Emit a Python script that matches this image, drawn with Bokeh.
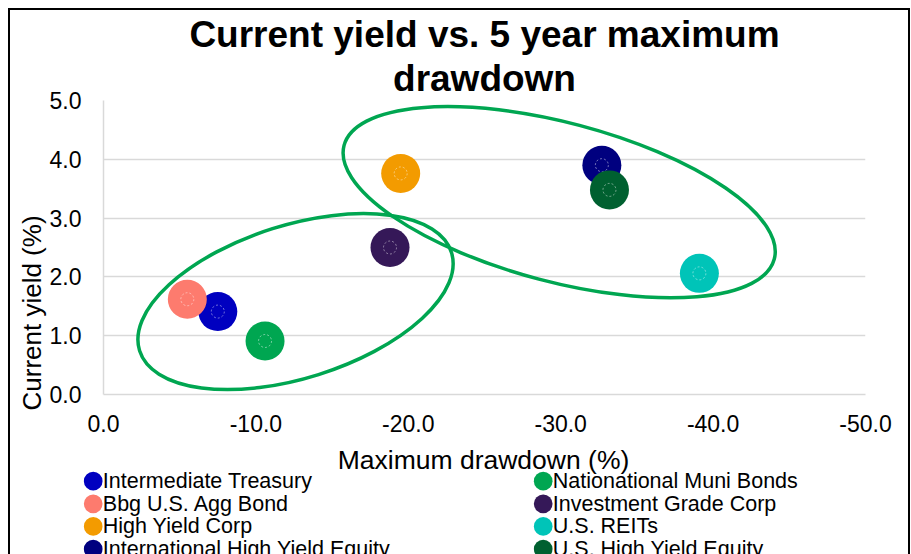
import math
from bokeh.plotting import figure
from bokeh.layouts import column
from bokeh.models import Range1d, FixedTicker, NumeralTickFormatter, Title
from bokeh.core.properties import value
from bokeh.embed import file_html
from bokeh.resources import INLINE

# ---------------- data ----------------
series = ["Intermediate Treasury", "Nationational Muni Bonds", "Bbg U.S. Agg Bond",
          "Investment Grade Corp", "High Yield Corp", "U.S. REITs",
          "International High Yield Equity", "U.S. High Yield Equity"]
max_drawdown = [-7.5, -10.6, -5.5, -18.8, -19.5, -39.1, -32.7, -33.2]
current_yield = [1.41, 0.91, 1.62, 2.50, 3.76, 2.06, 3.90, 3.48]
colors = ["#0000c0", "#00a651", "#fd7b6e", "#351858", "#f39b00", "#00c4b8",
          "#00007f", "#006030"]
x_ticks = [0, -10, -20, -30, -40, -50]
y_ticks = [0, 1, 2, 3, 4, 5]

# highlight ellipses around the two groups
group_x = [-12.6, -29.9]
group_y = [1.58, 3.27]
group_w_px = [327, 445]
group_h_px = [153, 159]
group_angle_deg = [17.5, -14.8]

FONT = "Liberation Sans"

# ---------------- layout (page pixels) ----------------
PAGE_X0, PAGE_Y0 = 10, 10          # content box origin inside the 2px border
W = 898                            # content width
H_MAIN, H_LEG = 434, 110           # main chart / legend strip heights
FL, FR, FT, FB = 93, 855, 90, 384  # frame edges inside the main figure

p = figure(width=W, height=H_MAIN, output_backend="svg", toolbar_location=None,
           title=None, x_range=Range1d(0, -50), y_range=Range1d(0, 5),
           min_border_left=FL, min_border_right=W - FR,
           min_border_top=FT, min_border_bottom=H_MAIN - FB)
p.frame_align = False
p.outline_line_color = None
p.background_fill_color = "white"
p.border_fill_color = "white"

p.xgrid.grid_line_color = None
p.ygrid.grid_line_color = "#d9d9d9"
p.ygrid.grid_line_width = 1.5

for ax in (p.xaxis[0], p.yaxis[0]):
    ax.axis_line_color = "#d9d9d9"
    ax.axis_line_width = 1.5
    ax.major_tick_line_color = None
    ax.minor_tick_line_color = None
    ax.minor_tick_out = 0
    ax.major_label_text_font = FONT
    ax.major_label_text_font_size = "23px"
    ax.major_label_text_color = "black"
    ax.formatter = NumeralTickFormatter(format="0.0")

p.xaxis.ticker = FixedTicker(ticks=x_ticks)
p.yaxis.ticker = FixedTicker(ticks=y_ticks)
p.xaxis.major_tick_out = 6
p.xaxis.major_label_standoff = 14
p.yaxis.major_tick_out = 0
p.yaxis.major_label_standoff = 22

renderers = []
for i in range(len(series)):
    r = p.ellipse(x=[max_drawdown[i]], y=[current_yield[i]], width=39, height=39,
                  width_units="screen", height_units="screen",
                  fill_color=colors[i], line_color=None)
    p.scatter(x=[max_drawdown[i]], y=[current_yield[i]], size=13, fill_color=None,
              line_color="white", line_alpha=0.45, line_width=1, line_dash="2 2")
    renderers.append(r)

p.ellipse(x=group_x, y=group_y, width=group_w_px, height=group_h_px,
          width_units="screen", height_units="screen",
          angle=[math.radians(a) for a in group_angle_deg],
          fill_color=None, line_color="#00a651", line_width=3.5)

# two-line chart title (first added sits closest to the plot)
p.add_layout(Title(text="drawdown", align="center", vertical_align="bottom",
                   standoff=4, text_font=FONT, text_font_style="bold",
                   text_font_size="37px", text_color="black"), "above")
p.add_layout(Title(text="Current yield vs. 5 year maximum", align="center",
                   vertical_align="bottom", standoff=-2, text_font=FONT,
                   text_font_style="bold", text_font_size="37px",
                   text_color="black"), "above")

# y axis title, shifted down like the original
p.add_layout(Title(text="Current yield (%)", align="left", offset=-16,
                   vertical_align="bottom", standoff=0, text_font=FONT,
                   text_font_style="normal", text_font_size="26px",
                   text_color="black"), "left")

# ---------------- bottom strip: x-axis title + legend ----------------
top_leg = PAGE_Y0 + H_MAIN
leg = figure(width=W, height=H_LEG, output_backend="svg", toolbar_location=None,
             title=None, x_axis_type=None, y_axis_type=None,
             x_range=Range1d(PAGE_X0, PAGE_X0 + W),
             y_range=Range1d(top_leg + H_LEG, top_leg),
             min_border_left=0, min_border_right=0, min_border_top=0,
             min_border_bottom=0)
leg.frame_align = False
leg.outline_line_color = None
leg.xgrid.grid_line_color = None
leg.ygrid.grid_line_color = None
leg.background_fill_color = "white"
leg.border_fill_color = "white"

frame_center_px = PAGE_X0 + (FL + FR) / 2
leg.text(x=[frame_center_px - 1], y=[459], text=["Maximum drawdown (%)"],
         text_align="center", text_baseline="middle", text_color="black",
         text_font=value(FONT), text_font_size=value("26.5px"))

col_marker_x = [92.7, 542.7]
row_y0, row_pitch = 480.7, 22.6
mx = [col_marker_x[i % 2] for i in range(len(series))]
my = [row_y0 + row_pitch * (i // 2) for i in range(len(series))]
leg.scatter(x=mx, y=my, size=18.7, fill_color=colors, line_color=None)
leg.text(x=[v + 9.6 for v in mx], y=my, text=series, text_align="left",
         text_baseline="middle", text_color="black",
         text_font=value(FONT), text_font_size=value("21.5px"))

layout = column(p, leg, spacing=0,
                styles={"margin-left": "8px", "margin-top": "8px",
                        "border-top": "2px solid black",
                        "border-left": "2px solid black",
                        "border-right": "2px solid black"})

open("out.html", "w").write(file_html(layout, INLINE))
